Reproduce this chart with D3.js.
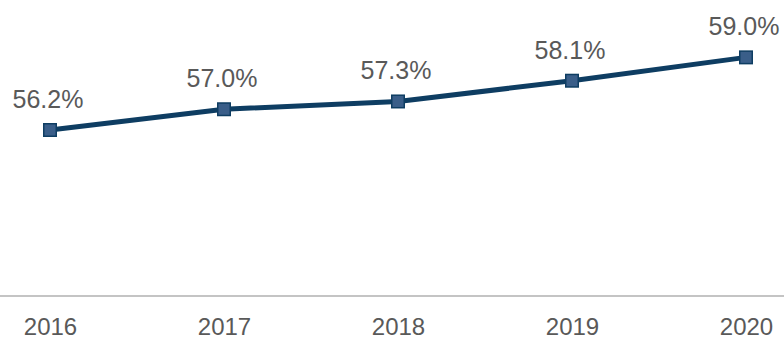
<!DOCTYPE html>
<html>
<head>
<meta charset="utf-8">
<script src="https://cdn.jsdelivr.net/npm/d3@7"></script>
<style>
  html, body { margin: 0; padding: 0; background: #fff; }
  svg { display: block; font-family: "Liberation Sans", Arial, sans-serif; }
</style>
</head>
<body>
<svg id="chart" width="784" height="341"></svg>
<script>
const years = ["2016", "2017", "2018", "2019", "2020"];
const shares = [56.2, 57.0, 57.3, 58.1, 59.0];

const W = 784, H = 341;
const svg = d3.select("#chart");

const x = d3.scalePoint().domain(years).range([50, 746]);
const y = d3.scaleLinear().domain([49.8, 61]).range([296, 5.5]);

// baseline axis with year labels
const xAxis = d3.axisBottom(x).tickSize(0).tickPadding(22);
const gx = svg.append("g").attr("transform", `translate(0,${y(49.8)})`).call(xAxis);
gx.select(".domain").remove();
gx.append("line")
  .attr("x1", 0).attr("x2", W)
  .attr("stroke", "#c4c4c4").attr("stroke-width", 2);
gx.selectAll(".tick text")
  .attr("fill", "#595959")
  .style("font-size", "24px")
  .style("font-family", "'Liberation Sans', Arial, sans-serif");

const data = years.map((yr, i) => ({ yr, v: shares[i] }));

svg.append("path")
  .datum(data)
  .attr("fill", "none")
  .attr("stroke", "#0e3d62")
  .attr("stroke-width", 5)
  .attr("stroke-linejoin", "round")
  .attr("d", d3.line().x(d => x(d.yr)).y(d => y(d.v)));

const m = 12.5;
svg.append("g").selectAll("rect")
  .data(data).join("rect")
  .attr("x", d => x(d.yr) - m / 2)
  .attr("y", d => y(d.v) - m / 2)
  .attr("width", m).attr("height", m)
  .attr("fill", "#3a5e89")
  .attr("stroke", "#0e3d62")
  .attr("stroke-width", 1.5);

svg.append("g").selectAll("text")
  .data(data).join("text")
  .attr("x", d => x(d.yr) - 2)
  .attr("y", d => y(d.v) - 22)
  .attr("text-anchor", "middle")
  .attr("fill", "#595959")
  .style("font-size", "25px")
  .text(d => d.v.toFixed(1) + "%");
</script>
</body>
</html>
